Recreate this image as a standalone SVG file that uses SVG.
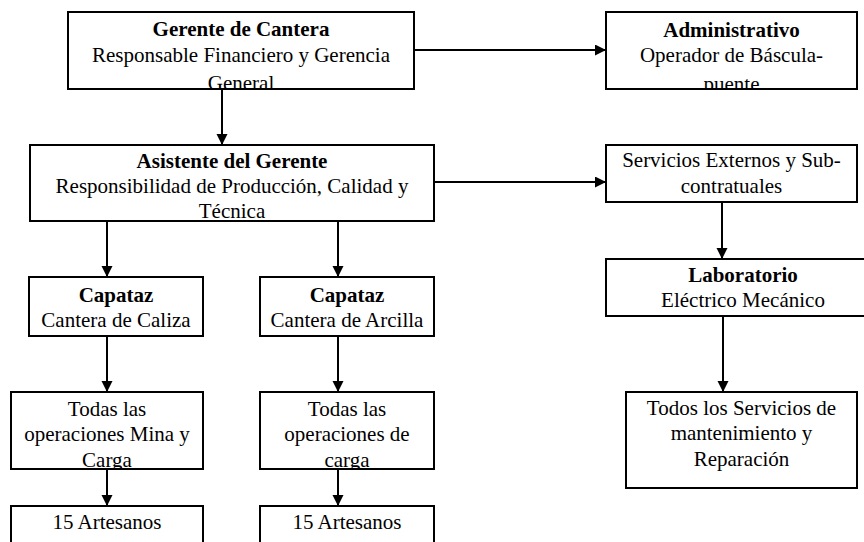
<svg xmlns="http://www.w3.org/2000/svg" width="864" height="542" viewBox="0 0 864 542">
<style>
.box{fill:#fff;stroke:#000;stroke-width:2}
text{font-family:"Liberation Serif","Times New Roman",serif;font-size:21px;fill:#000;text-anchor:middle}
.b{font-weight:bold}
.conn line{stroke:#000;stroke-width:2}
</style>
<defs>
<marker id="ah" markerUnits="userSpaceOnUse" markerWidth="12" markerHeight="12" refX="11" refY="5.5" orient="auto">
<path d="M0,0 L11,5.5 L0,11 z" fill="#000"/>
</marker>
<clipPath id="c1"><rect x="69" y="13" width="344" height="75"/></clipPath>
<clipPath id="c2"><rect x="607" y="13" width="249" height="75"/></clipPath>
<clipPath id="c9"><rect x="12" y="393" width="190" height="75"/></clipPath>
<clipPath id="c10"><rect x="261" y="393" width="172" height="75"/></clipPath>
</defs>
<g class="conn">
<line x1="414" y1="50" x2="606" y2="50" marker-end="url(#ah)"/>
<line x1="222" y1="89" x2="222" y2="145" marker-end="url(#ah)"/>
<line x1="434" y1="182" x2="606" y2="182" marker-end="url(#ah)"/>
<line x1="722" y1="202" x2="722" y2="259" marker-end="url(#ah)"/>
<line x1="107" y1="221" x2="107" y2="277" marker-end="url(#ah)"/>
<line x1="338" y1="221" x2="338" y2="277" marker-end="url(#ah)"/>
<line x1="723" y1="316" x2="723" y2="392" marker-end="url(#ah)"/>
<line x1="107" y1="336" x2="107" y2="392" marker-end="url(#ah)"/>
<line x1="338" y1="336" x2="338" y2="392" marker-end="url(#ah)"/>
<line x1="107" y1="469" x2="107" y2="506" marker-end="url(#ah)"/>
<line x1="338" y1="469" x2="338" y2="506" marker-end="url(#ah)"/>
</g>
<g id="gerente">
<rect class="box" x="68" y="12" width="346" height="77"/>
<g clip-path="url(#c1)">
<text class="b" x="241" y="36">Gerente de Cantera</text>
<text x="241" y="62">Responsable Financiero y Gerencia</text>
<text x="241" y="90">General</text>
</g>
</g>
<g id="administrativo">
<rect class="box" x="606" y="12" width="251" height="77"/>
<g clip-path="url(#c2)">
<text class="b" x="731.5" y="37">Administrativo</text>
<text x="731.5" y="62">Operador de Báscula-</text>
<text x="731.5" y="91">puente</text>
</g>
</g>
<g id="asistente">
<rect class="box" x="30" y="145" width="404" height="76"/>
<text class="b" x="232" y="168">Asistente del Gerente</text>
<text x="232" y="193">Responsibilidad de Producción, Calidad y</text>
<text x="232" y="218">Técnica</text>
</g>
<g id="servicios">
<rect class="box" x="606" y="145" width="251" height="57"/>
<text x="731.5" y="167">Servicios Externos y Sub-</text>
<text x="731.5" y="193">contratuales</text>
</g>
<g id="laboratorio">
<rect class="box" x="606" y="259" width="274" height="57"/>
<text class="b" x="743" y="282">Laboratorio</text>
<text x="743" y="307">Eléctrico Mecánico</text>
</g>
<g id="mantenimiento">
<rect class="box" x="626" y="392" width="231" height="96"/>
<text x="741.5" y="415">Todos los Servicios de</text>
<text x="741.5" y="440">mantenimiento y</text>
<text x="741.5" y="466">Reparación</text>
</g>
<g id="capataz1">
<rect class="box" x="29" y="277" width="174" height="59"/>
<text class="b" x="116" y="302">Capataz</text>
<text x="116" y="327">Cantera de Caliza</text>
</g>
<g id="capataz2">
<rect class="box" x="260" y="277" width="174" height="59"/>
<text class="b" x="347" y="302">Capataz</text>
<text x="347" y="327">Cantera de Arcilla</text>
</g>
<g id="todas1">
<rect class="box" x="11" y="392" width="192" height="77"/>
<g clip-path="url(#c9)">
<text x="107" y="416">Todas las</text>
<text x="107" y="441">operaciones Mina y</text>
<text x="107" y="467">Carga</text>
</g>
</g>
<g id="todas2">
<rect class="box" x="260" y="392" width="174" height="77"/>
<g clip-path="url(#c10)">
<text x="347" y="416">Todas las</text>
<text x="347" y="441">operaciones de</text>
<text x="347" y="467">carga</text>
</g>
</g>
<g id="artesanos1">
<rect class="box" x="11" y="506" width="192" height="50"/>
<text x="107" y="529">15 Artesanos</text>
</g>
<g id="artesanos2">
<rect class="box" x="260" y="506" width="174" height="50"/>
<text x="347" y="529">15 Artesanos</text>
</g>
</svg>
